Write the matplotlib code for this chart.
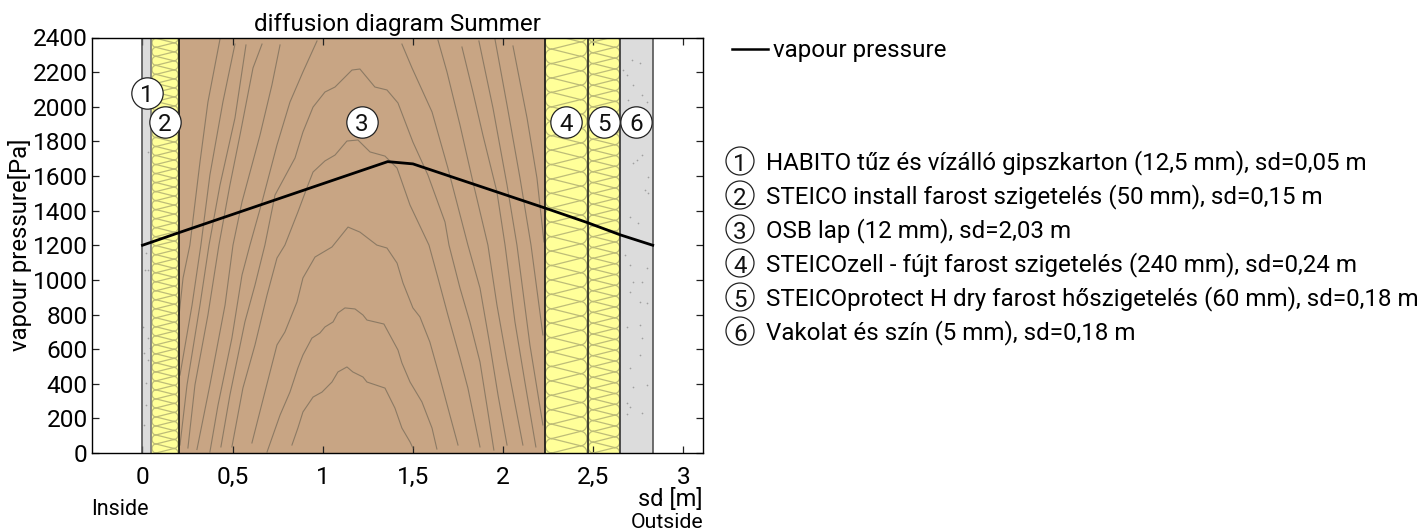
import numpy as np
import matplotlib
matplotlib.use("Agg")
import matplotlib.pyplot as plt
from matplotlib.patches import Circle, Rectangle

plt.rcParams['font.family'] = ['Roboto', 'DejaVu Sans']

# layers
layer_sd = [0.05, 0.15, 2.03, 0.24, 0.18, 0.18]
layer_names = ["HABITO tűz és vízálló gipszkarton (12,5 mm), sd=0,05 m",
               "STEICO install farost szigetelés (50 mm), sd=0,15 m",
               "OSB lap (12 mm), sd=2,03 m",
               "STEICOzell - fújt farost szigetelés (240 mm), sd=0,24 m",
               "STEICOprotect H dry farost hőszigetelés (60 mm), sd=0,18 m",
               "Vakolat és szín (5 mm), sd=0,18 m"]
layer_kind = ["plaster", "wool", "wood", "wool", "wool", "plaster"]

# vapour pressure
vapour_sd = [0, 0.05, 0.2, 1.36, 1.5, 2.23, 2.47, 2.65, 2.83]
vapour_pa = [1200, 1218, 1272, 1683, 1670, 1416, 1330, 1260, 1200]

xticks = [0, 0.5, 1, 1.5, 2, 2.5, 3]
xticklabels = ["0", "0,5", "1", "1,5", "2", "2,5", "3"]
yticks = list(range(0, 2401, 200))

# wood grain lines of the OSB layer (sd, Pa)
grain = [
    [(.430, 2391), (.363, 2027), (.319, 1681), (.263, 1201), (.225, 1011), (.203, 797)],
    [(.513, 2362), (.446, 2027), (.374, 1606), (.324, 1201), (.275, 855), (.208, 450)],
    [(.574, 2357), (.513, 1935), (.430, 1548), (.369, 1201), (.319, 855), (.247, 393), (.208, 46)],
    [(.663, 2362), (.613, 2224), (.541, 1837), (.485, 1548), (.424, 1201), (.363, 797), (.291, 393), (.252, 29)],
    [(.763, 2357), (.718, 2126), (.652, 1837), (.552, 1450), (.502, 1201), (.458, 855), (.374, 393), (.302, 20)],
    [(.968, 2380), (.890, 2201), (.818, 2027), (.746, 1779), (.663, 1450), (.596, 1201), (.552, 1028),
     (.496, 664), (.419, 277), (.374, 6)],
    [(.435, 35), (.485, 335), (.568, 757), (.624, 970), (.679, 1201), (.735, 1490), (.846, 1704), (.890, 1854),
     (.946, 1998), (1.012, 2085), (1.068, 2114), (1.162, 2212), (1.206, 2218), (1.289, 2114), (1.356, 2097),
     (1.417, 2022), (1.500, 1796), (1.583, 1606), (1.678, 1334), (1.700, 1201), (1.761, 953), (1.816, 757),
     (1.872, 526), (1.916, 237), (1.949, 17)],
    [(.496, 35), (.557, 375), (.624, 624), (.691, 913), (.746, 1126), (.790, 1201), (.862, 1392), (.918, 1548),
     (.946, 1623), (1.012, 1687), (1.068, 1721), (1.134, 1802), (1.195, 1808), (1.262, 1739), (1.345, 1715),
     (1.412, 1646), (1.484, 1432), (1.589, 1201), (1.639, 1011), (1.694, 797), (1.761, 549), (1.805, 375),
     (1.872, 35)],
    [(.607, 58), (.679, 352), (.746, 624), (.790, 699), (.857, 872), (.890, 1011), (.957, 1132), (1.051, 1190),
     (1.140, 1305), (1.206, 1276), (1.300, 1201), (1.356, 1184), (1.412, 1097), (1.445, 982), (1.500, 838),
     (1.539, 786), (1.594, 641), (1.650, 433), (1.705, 219), (1.750, 46)],
    [(.691, 6), (.763, 219), (.818, 352), (.862, 491), (.890, 566), (.940, 664), (.984, 693), (1.012, 728),
     (1.057, 757), (1.084, 809), (1.123, 838), (1.179, 832), (1.223, 797), (1.245, 768), (1.339, 745),
     (1.417, 595), (1.439, 520), (1.484, 410), (1.550, 295), (1.606, 144), (1.633, 23)],
    [(.829, 46), (.862, 144), (.890, 237), (.946, 323), (.996, 352), (1.051, 410), (1.084, 468), (1.134, 497),
     (1.167, 468), (1.223, 439), (1.245, 410), (1.345, 375), (1.400, 260), (1.439, 144), (1.484, 64), (1.500, 29)],
    [(1.439, 2362), (1.495, 2224), (1.606, 1970), (1.694, 1646), (1.805, 1201), (1.872, 953), (1.927, 624),
     (1.972, 335), (2.022, 46)],
    [(1.639, 2385), (1.689, 2201), (1.761, 1895), (1.833, 1565), (1.916, 1201), (1.966, 855), (2.022, 526), (2.110, 46)],
    [(1.772, 2345), (1.833, 2085), (1.888, 1837), (1.966, 1508), (2.011, 1201), (2.066, 757), (2.121, 410), (2.182, 35)],
    [(1.866, 2380), (1.944, 1993), (2.022, 1548), (2.077, 1201), (2.149, 624), (2.221, 162)],
    [(1.955, 2391), (2.022, 2010), (2.094, 1588), (2.155, 1201), (2.221, 682)],
    [(2.055, 2351), (2.133, 1935), (2.188, 1588), (2.227, 1219)],
]

# specks in the plaster layers (sd, Pa)
speck_sd = [2.713, 2.759, 2.686, 2.722, 2.695, 2.769, 2.796, 2.741, 2.769, 2.722, 2.787, 2.805, 2.750, 2.704,
            2.805, 2.667, 2.676, 2.704, 2.796, 2.722, 2.769, 2.704, 2.759, 2.796, 2.686, 2.759, 2.769, 2.704,
            2.759, 2.686, 2.686, 2.769, 2.796, 2.722, 2.704,
            .014, .032, .005, .032, .042, .011, .032, .021, .021, .011, .032, .020]
speck_pa = [2270, 2251, 2183, 2126, 2039, 2068, 2029, 1692, 1721, 1675, 1519, 1502, 1328, 1363,
            1594, 2212, 1144, 1086, 1068, 989, 989, 932, 874, 866, 730, 739, 664, 491,
            566, 288, 225, 231, 393, 383, 267,
            1057, 1057, 730, 664, 606, 577, 537, 404, 277, 162, 1740, 1155]


def wool(ax, x0, w, top, pa_per_sd):
    # insulation hatch: scallops along both edges with crossing diagonals
    color = '#BDBC78'
    r = w / 6
    ry = r * pa_per_sd
    n = int(top / (2 * ry)) + 2
    t = np.linspace(0, np.pi, 20)
    for k in range(-1, n):
        yl = k * 2 * ry
        yr = yl + ry
        ax.plot(x0 + r - r * 0.88 * np.sin(t), yl + ry * (1 - np.cos(t)), color=color, lw=0.9, zorder=2)
        ax.plot(x0 + w - r + r * 0.88 * np.sin(t), yr + ry * (1 - np.cos(t)), color=color, lw=0.9, zorder=2)
        ax.plot([x0 + r, x0 + w - r], [yl, yr], color=color, lw=0.9, zorder=2)
        ax.plot([x0 + r, x0 + w - r], [yl, yl - ry], color=color, lw=0.9, zorder=2)


fig = plt.figure(figsize=(14.25, 5.31), dpi=100)
ax = fig.add_axes([92 / 1425, (531 - 453) / 531, 611 / 1425, 415.5 / 531])
ax.set_xlim(-0.28, 3.109)
ax.set_ylim(0, 2400)
pa_per_sd = 2400 / 415.5 * 180.3

edges = np.concatenate([[0], np.cumsum(layer_sd)])
fills = {"plaster": '#DCDCDC', "wool": '#FFFF99', "wood": '#C8A584'}
for i, kind in enumerate(layer_kind):
    ax.add_patch(Rectangle((edges[i], 0), layer_sd[i], 2400, facecolor=fills[kind], edgecolor='none', zorder=1))
    if kind == "wool":
        wool(ax, edges[i], layer_sd[i], 2400, pa_per_sd)

for g in grain:
    gx, gy = zip(*g)
    ax.plot(gx, gy, color='#8C7A64', lw=0.8, zorder=2)
ax.scatter(speck_sd, speck_pa, s=1.5, color='#A0A0A0', linewidths=0, zorder=2)

edge_colors = ['#555555', '#777777', '#111111', '#111111', '#222222', '#333333', '#555555']
for xe, c in zip(edges, edge_colors):
    ax.axvline(xe, color=c, lw=1.2, zorder=3)

ax.plot(vapour_sd, vapour_pa, color='black', lw=2, zorder=4)

label_y = [2080, 1910, 1910, 1910, 1910, 1910]
centers = edges[:-1] + np.array(layer_sd) / 2
for i in range(6):
    ax.scatter(centers[i], label_y[i], s=510, facecolor='white', edgecolor='#222222', linewidths=0.9, zorder=5)
    ax.text(centers[i], label_y[i], str(i + 1), fontsize=17.4, ha='center', va='center_baseline', color='#111111', zorder=6)

ax.set_xticks(xticks)
ax.set_xticklabels(xticklabels)
ax.set_yticks(yticks)
ax.tick_params(direction='in', length=5, width=0.9, top=True, right=True, labelsize=17.6, pad=3, color='#222222')
ax.tick_params(axis='x', pad=9)
for s in ax.spines.values():
    s.set_linewidth(1.0)
    s.set_zorder(7)

ax.set_title("diffusion diagram Summer", fontsize=17.4, pad=5)

# overlay in image pixels for the legend and the side notes
ov = fig.add_axes([0, 0, 1, 1])
ov.set_xlim(0, 1425)
ov.set_ylim(531, 0)
ov.axis('off')
ov.patch.set_alpha(0)

ov.text(20, 245, "vapour pressure[Pa]", fontsize=17.2, rotation=90, ha='center', va='center')
ov.plot([732, 768], [49, 49], color='black', lw=1.8)
ov.text(773, 50, "vapour pressure", fontsize=17.4, va='center')
rows = [161, 195, 229, 263, 297, 331]
for i, name in enumerate(layer_names):
    ov.add_patch(Circle((740, rows[i]), 14, facecolor='white', edgecolor='#222222', lw=0.9))
    ov.text(740, rows[i] + 1, str(i + 1), fontsize=17.4, ha='center', va='center_baseline', color='#111111')
    ov.text(766, rows[i] - 1, name, fontsize=17.4, va='center_baseline')

ov.text(91, 507, "Inside", fontsize=15.5, va='center_baseline')
ov.text(703, 497, "sd [m]", fontsize=17, ha='right', va='center_baseline')
ov.text(703, 520, "Outside", fontsize=15.3, ha='right', va='center_baseline')

fig.savefig("out.png", dpi=100)
